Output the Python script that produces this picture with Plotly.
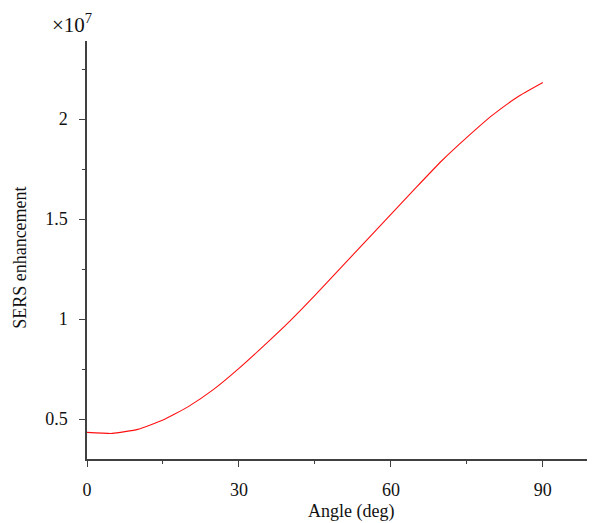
import plotly.graph_objects as go

angle = [0, 5, 10, 15, 20, 25, 30, 35, 40, 45, 50, 55, 60, 65, 70, 75, 80, 85, 90]
sers = [0.433, 0.428, 0.448, 0.495, 0.562, 0.648, 0.753, 0.868, 0.988, 1.118, 1.253, 1.388, 1.523, 1.658, 1.790, 1.908, 2.018, 2.110, 2.182]
x_ticks = [0, 30, 60, 90]
y_ticks = [0.5, 1, 1.5, 2]
y_tick_text = ["0.5", "1", "1.5", "2"]

font = "Liberation Serif"
axcol = "#404040"

# page has an 8px body margin; figure is sized/placed to compensate
fig = go.Figure()
fig.add_trace(go.Scatter(x=angle, y=sers, mode="lines",
                         line=dict(color="#ff1010", width=1.1, shape="spline", smoothing=0.4),
                         showlegend=False, hoverinfo="skip"))

fig.update_layout(
    width=587, height=515,
    margin=dict(l=79, r=0, t=33, b=64, autoexpand=False),
    paper_bgcolor="white", plot_bgcolor="white",
    font=dict(family=font, size=18, color="#111"),
    xaxis=dict(range=[0, 100.3], tickvals=x_ticks, ticks="outside", ticklen=6,
               tickwidth=1.3, tickcolor=axcol, showline=True, linecolor=axcol,
               linewidth=1.5, showgrid=False, zeroline=False, automargin=False,
               ticklabelstandoff=8, tickfont=dict(family=font, size=18),
               minor=dict(ticks="outside", ticklen=3, dtick=15, tick0=0,
                          tickcolor=axcol, tickwidth=1.3, showgrid=False)),
    yaxis=dict(range=[0.3, 2.39], tickvals=y_ticks, ticktext=y_tick_text,
               ticks="outside", ticklen=6, tickwidth=1.3, tickcolor=axcol,
               showline=True, linecolor=axcol, linewidth=1.5, showgrid=False,
               zeroline=False, automargin=False, ticklabelstandoff=8,
               tickfont=dict(family=font, size=18),
               minor=dict(ticks="outside", ticklen=3, dtick=0.25, tick0=0,
                          tickcolor=axcol, tickwidth=1.3, showgrid=False)),
)

fig.add_annotation(text="Angle (deg)", xref="paper", yref="paper",
                   x=(350 - 87) / 507, y=-(511 - 459) / 418,
                   showarrow=False, xanchor="center", yanchor="middle",
                   font=dict(family=font, size=18))
fig.add_annotation(text="SERS enhancement", xref="paper", yref="paper",
                   x=-(87 - 20) / 507, y=(459 - 258) / 418, textangle=-90,
                   showarrow=False, xanchor="center", yanchor="middle",
                   font=dict(family=font, size=18))
fig.add_annotation(text="×10<sup>7</sup>", xref="paper", yref="paper",
                   x=-(87 - 50) / 507, y=1 + (41 - 24) / 418,
                   showarrow=False, xanchor="left", yanchor="middle",
                   font=dict(family=font, size=21))

fig.write_html("out.html")
